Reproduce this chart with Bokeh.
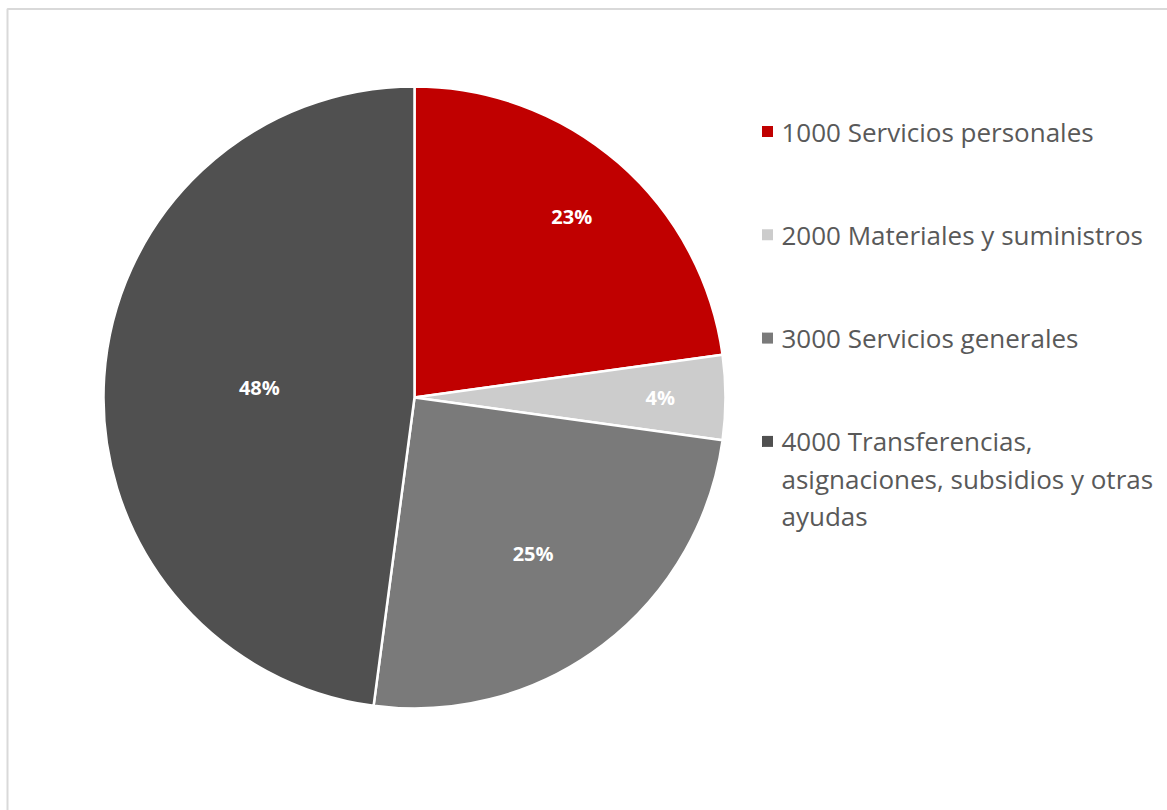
import math
from bokeh.plotting import figure
from bokeh.models import Range1d, ColumnDataSource
from bokeh.core.properties import value
from bokeh.embed import file_html
from bokeh.resources import INLINE

# ---- data ----
categories = [
    "1000 Servicios personales",
    "2000 Materiales y suministros",
    "3000 Servicios generales",
    "4000 Transferencias,\nasignaciones, subsidios y otras\nayudas",
]
shares = [22.8, 4.4, 24.9, 47.9]
pct_labels = ["23%", "4%", "25%", "48%"]
colors = ["#C00000", "#CCCCCC", "#7A7A7A", "#505050"]

W, H = 1167, 810
p = figure(width=W, height=H, output_backend="svg", toolbar_location=None,
           x_range=Range1d(0, W), y_range=Range1d(0, H), min_border=0)
p.axis.visible = False
p.grid.visible = False
p.outline_line_color = None
p.background_fill_color = "white"
p.border_fill_color = "white"

# chart border (top and left visible)
p.line(x=[7, 7, W], y=[0, H - 8.5, H - 8.5], line_color="#D9D9D9", line_width=2)

# pie
cx, cy, r = 414, H - 397, 311
total = sum(shares)
starts, ends, mids = [], [], []
cum = 0.0
for s in shares:
    a0 = math.pi / 2 - 2 * math.pi * cum / total
    cum += s
    a1 = math.pi / 2 - 2 * math.pi * cum / total
    starts.append(a0); ends.append(a1); mids.append((a0 + a1) / 2)

src = ColumnDataSource(dict(start=starts, end=ends, color=colors))
p.wedge(x=cx, y=cy, radius=r, start_angle="start", end_angle="end", direction="clock",
        fill_color="color", line_color="white", line_width=2.5, source=src)

# percent labels (Excel best-fit placement, radial fraction per slice)
label_rf = [0.77, 0.79, 0.63, 0.50]
lx = [cx + f * r * math.cos(m) for f, m in zip(label_rf, mids)]
ly = [cy + f * r * math.sin(m) for f, m in zip(label_rf, mids)]
p.text(x=lx, y=ly, text=pct_labels, text_color="white", text_font=value("Open Sans"),
       text_font_style="bold", text_font_size="20px", text_align="center",
       text_baseline="middle")

# legend
leg_x, leg_y0, item_gap, line_h = 781, H - 131, 103.3, 37.5
tx, ty, tt = [], [], []
for i, (cat, col) in enumerate(zip(categories, colors)):
    y = leg_y0 - i * item_gap
    p.rect(x=767, y=y, width=11, height=11, fill_color=col, line_color=None)
    for j, line in enumerate(cat.split("\n")):
        tx.append(leg_x); ty.append(y - j * line_h); tt.append(line)
p.text(x=tx, y=ty, text=tt, text_color="#595959", text_font=value("Open Sans"),
       text_font_size="26px", text_align="left", text_baseline="middle")

open("out.html", "w").write(file_html(p, INLINE))
